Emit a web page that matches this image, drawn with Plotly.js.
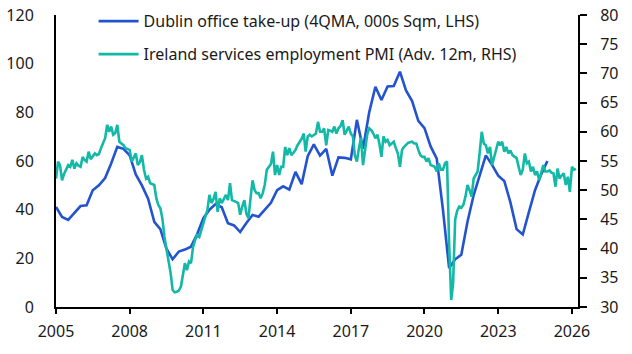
<!DOCTYPE html>
<html>
<head>
<meta charset="utf-8">
<script src="https://cdn.plot.ly/plotly-3.0.1.min.js"></script>
<style>html,body{margin:0;padding:0;background:#fff;}#chart{width:632px;height:354px;}</style>
</head>
<body>
<div id="chart"></div>
<script>
// Dublin office take-up, 4QMA, 000s sqm (quarterly, from 2005Q1)
const officeStart = [2005, 1];
const officeTakeUp = [
  41.1, 37.0, 35.8, 38.5,
  41.5, 41.8, 48.0, 50.0,
  53.0, 59.0, 65.8, 65.0,
  62.3, 54.5, 50.0, 44.5,
  35.0, 32.0, 24.0, 19.6,
  22.8, 23.6, 24.8, 30.0,
  36.5, 40.0, 42.3, 41.0,
  34.4, 33.5, 30.8, 34.5,
  37.8, 37.1, 40.0, 42.8,
  48.0, 49.6, 48.2, 55.5,
  50.5, 62.0, 66.8, 62.2,
  65.0, 54.0, 61.5, 61.3,
  60.7, 76.9, 65.0, 80.0,
  90.5, 85.1, 90.6, 90.8,
  96.7, 89.0, 84.6, 76.5,
  73.5, 66.0, 61.0, 40.0,
  16.0, 19.6, 21.5, 35.0,
  46.0, 54.0, 62.3, 58.4,
  54.0, 51.8, 43.0, 32.0,
  29.8, 39.0, 48.0, 54.5,
  60.0
];
// Ireland services employment PMI, advanced 12 months (monthly, from Jan 2005)
const pmiStart = [2005, 1];
const servicesPMI = [
  52.0, 54.9, 54.3, 51.7, 52.8, 53.5, 54.3, 54.0, 55.2, 53.7, 54.6, 54.2,
  54.0, 55.7, 55.2, 54.9, 56.6, 55.3, 55.8, 56.3, 56.0, 56.2, 57.2, 58.0,
  58.9, 61.2, 60.0, 60.9, 59.5, 59.8, 61.2, 58.3, 58.0, 57.7, 57.2, 57.0,
  56.9, 54.9, 55.6, 56.3, 54.3, 54.8, 56.0, 53.5, 52.0, 52.3, 51.2, 51.0,
  50.9, 48.6, 47.5, 46.9, 45.2, 42.0, 40.0, 38.6, 35.8, 32.9, 32.5, 32.6,
  32.8, 33.5, 35.2, 37.5, 36.3, 37.8, 37.5, 40.3, 41.5, 42.3, 42.0, 43.2,
  44.0, 45.5, 46.6, 49.2, 47.8, 48.5, 49.7, 46.3, 48.6, 47.8, 48.5, 49.2,
  48.3, 51.2, 48.3, 48.2, 48.0, 47.8, 45.8, 47.2, 48.3, 46.0, 45.2, 48.5,
  51.7, 50.0, 49.5, 49.5, 48.6, 49.5, 50.9, 53.5, 54.0, 54.5, 56.6, 52.6,
  54.3, 52.6, 54.0, 54.0, 57.4, 56.0, 57.2, 56.0, 56.4, 56.9, 57.7, 58.3,
  58.8, 59.7, 56.6, 59.2, 59.5, 59.2, 59.5, 59.7, 61.7, 60.0, 60.0, 60.6,
  57.7, 60.3, 60.2, 60.0, 60.9, 59.7, 60.6, 61.0, 62.0, 59.5, 60.2, 60.9,
  59.7, 59.2, 56.0, 54.9, 57.2, 59.0, 54.3, 57.4, 59.5, 60.6, 60.3, 59.7,
  58.9, 59.5, 58.0, 55.7, 59.2, 58.3, 58.6, 57.7, 58.0, 58.3, 57.2, 56.3,
  54.0, 56.9, 57.4, 57.7, 58.1, 58.2, 58.3, 58.0, 58.0, 56.9, 56.0, 55.7,
  55.7, 54.9, 55.5, 54.3, 54.2, 54.0, 53.2, 54.6, 53.5, 53.5, 54.6, 54.9,
  41.0, 31.2, 34.0, 45.0, 46.5, 47.2, 47.0, 47.5, 48.9, 50.9, 50.0, 48.9,
  52.0, 52.6, 53.2, 56.5, 60.0, 58.0, 57.7, 56.3, 57.4, 54.3, 55.7, 56.9,
  58.3, 57.7, 58.3, 56.6, 57.4, 56.3, 56.8, 56.0, 55.8, 55.5, 54.0, 52.6,
  53.5, 56.3, 54.6, 54.9, 53.2, 54.0, 52.6, 53.2, 51.7, 53.2, 54.3, 53.2,
  53.2, 53.4, 53.0, 52.9, 50.6, 53.7, 52.0, 52.5, 52.9, 50.9, 52.3, 49.7,
  54.0, 53.5, 53.7
];
const tickYears = ['2005', '2008', '2011', '2014', '2017', '2020', '2023', '2026'];
const seriesNames = [
  'Dublin office take-up (4QMA, 000s Sqm, LHS)',
  'Ireland services employment PMI (Adv. 12m, RHS)'
];

function monthDates(start, n, step) {
  const out = [];
  for (let i = 0; i < n; i++) {
    const m = (start[1] - 1) + i * step;
    const y = start[0] + Math.floor(m / 12);
    const mm = (m % 12) + 1;
    out.push(y + '-' + String(mm).padStart(2, '0') + '-01');
  }
  return out;
}

const font = 'Noto Sans, Open Sans, sans-serif';
const traces = [
  {
    x: monthDates(officeStart, officeTakeUp.length, 3),
    y: officeTakeUp,
    name: seriesNames[0],
    type: 'scatter', mode: 'lines',
    line: {color: '#2453CF', width: 2.6},
    yaxis: 'y', legend: 'legend'
  },
  {
    x: monthDates(pmiStart, servicesPMI.length, 1),
    y: servicesPMI,
    name: seriesNames[1],
    type: 'scatter', mode: 'lines',
    line: {color: '#14B8A6', width: 2.6},
    yaxis: 'y2', legend: 'legend2'
  }
];

const layout = {
  width: 632, height: 354,
  margin: {l: 56, r: 54, t: 15, b: 47, autoexpand: false},
  paper_bgcolor: '#fff', plot_bgcolor: '#fff',
  font: {family: font, size: 16, color: '#1a1a1a'},
  showlegend: true,
  legend: {x: 0.072, y: 1.037, xanchor: 'left', yanchor: 'top', bgcolor: 'rgba(0,0,0,0)', font: {size: 16}, itemwidth: 40},
  legend2: {x: 0.072, y: 0.924, xanchor: 'left', yanchor: 'top', bgcolor: 'rgba(0,0,0,0)', font: {size: 16}, itemwidth: 40},
  xaxis: {
    type: 'date',
    range: ['2005-01-01', '2026-04-01'],
    tickvals: tickYears.map(y => y + '-01-01'),
    ticktext: tickYears,
    ticks: 'outside', ticklen: 5, tickwidth: 2, tickcolor: '#000',
    showline: true, linewidth: 2, linecolor: '#000',
    showgrid: false, zeroline: false,
    ticklabelstandoff: 4,
    tickfont: {size: 16}
  },
  yaxis: {
    range: [0, 120], dtick: 20, tick0: 0,
    ticks: '', showline: true, linewidth: 2, linecolor: '#000',
    showgrid: false, zeroline: false,
    ticklabelstandoff: 17,
    tickfont: {size: 16}
  },
  yaxis2: {
    range: [30, 80], dtick: 5, tick0: 30,
    overlaying: 'y', side: 'right',
    ticks: 'outside', ticklen: 7, tickwidth: 2, tickcolor: '#000',
    showline: true, linewidth: 2, linecolor: '#000',
    showgrid: false, zeroline: false,
    ticklabelstandoff: 10,
    tickfont: {size: 16}
  }
};

Plotly.newPlot('chart', traces, layout, {staticPlot: true, displayModeBar: false});
</script>
</body>
</html>
